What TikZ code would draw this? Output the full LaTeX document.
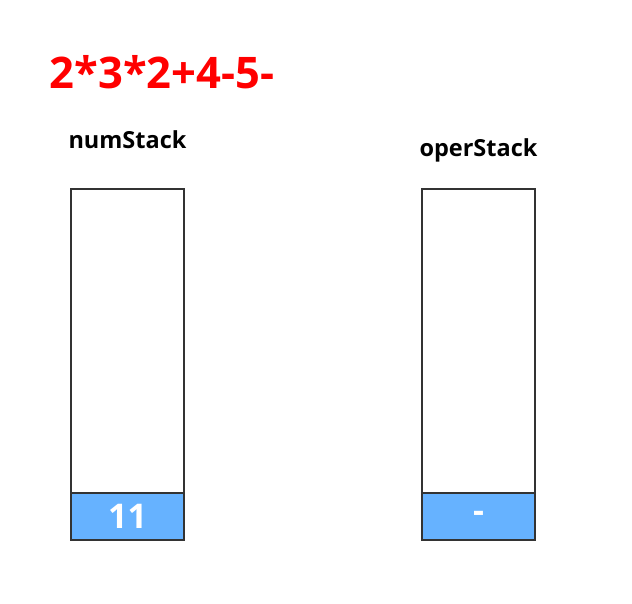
\documentclass[tikz,border=0pt]{standalone}
\usepackage{fontspec}
\setmainfont{Open Sans}[BoldFont={Open Sans Bold}]
\usetikzlibrary{positioning}
\definecolor{cellblue}{HTML}{66B2FF}

\begin{document}
\begin{tikzpicture}[x=1pt, y=-1pt, every node/.style={inner sep=0pt},
  stack/.style={draw=black!80, line width=1.8pt, minimum width=113pt, minimum height=351pt},
  cell/.style={draw=black!80, line width=1.8pt, fill=cellblue, minimum width=113pt, minimum height=47pt, text=white, font=\bfseries\fontsize{34}{38}\selectfont},
  label/.style={font=\bfseries\fontsize{23.5}{27}\selectfont}]
\useasboundingbox (0,0) rectangle (632,603);
\node[text=red, font=\bfseries\fontsize{43.5}{48}\selectfont] (expr) at (162,72) {2*3*2+4-5-};
\node[label] (numlbl) at (127.5,140) {numStack};
\node[label] (operlbl) at (478.5,150) {operStack};
\node[stack] (numstack) at (127.5,364.5) {};
\node[stack] (operstack) at (478.5,364.5) {};
\node[cell] (num1) at (127.5,516.5) {11};
\node[cell] (oper1) at (478.5,516.5) {-};
\end{tikzpicture}
\end{document}
